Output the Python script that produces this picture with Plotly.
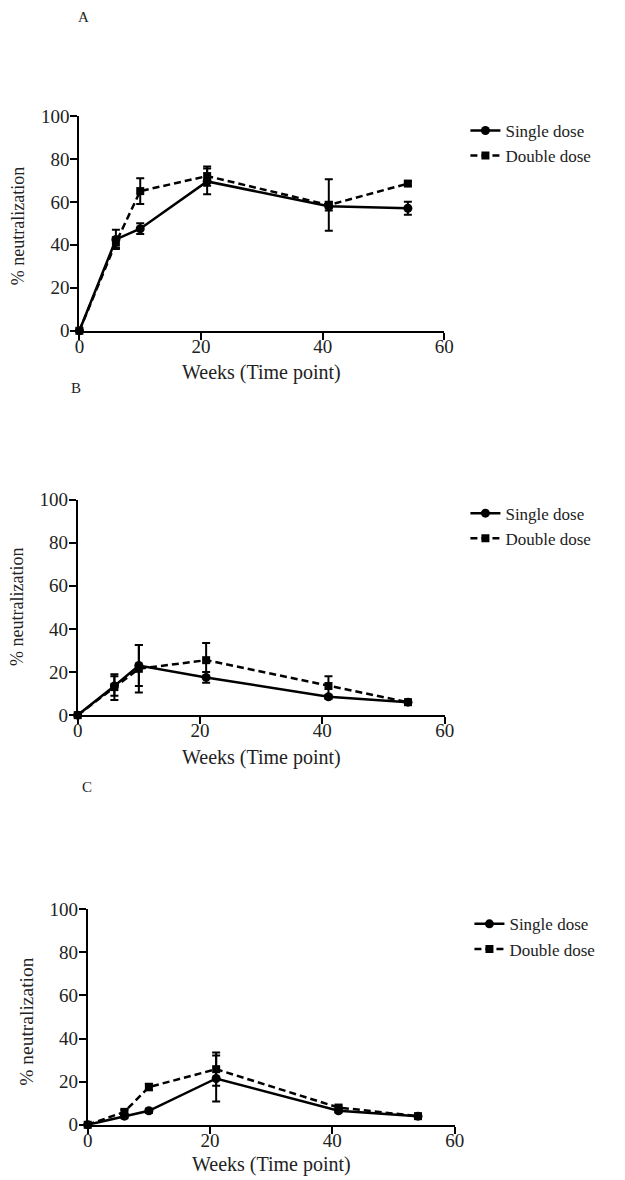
import plotly.graph_objects as go

weeks = [0, 6, 10, 21, 41, 54]

A_single = [0, 42.5, 47.5, 69.5, 58.0, 57.0]
A_single_err = [0, 4.5, 2.5, 6.0, 2.0, 3.0]
A_double = [0, 41.0, 65.0, 72.0, 58.5, 68.5]
A_double_err = [0, 2.5, 6.0, 4.5, 12.0, 1.0]

B_single = [0, 13.5, 23.0, 17.5, 8.5, 6.0]
B_single_err = [0, 4.5, 9.5, 2.5, 1.0, 0.5]
B_double = [0, 13.0, 21.5, 25.5, 13.5, 6.0]
B_double_err = [0, 6.0, 11.0, 8.0, 4.5, 0.5]

C_single = [0, 4.0, 6.5, 21.5, 6.5, 4.0]
C_single_err = [0, 1.0, 1.0, 10.7, 0.8, 0.5]
C_double = [0, 6.0, 17.5, 25.8, 8.0, 4.0]
C_double_err = [0, 1.0, 1.5, 7.7, 1.0, 0.5]

panel_labels = ["A", "B", "C"]
series_names = ["Single dose", "Double dose"]
x_ticks = [0, 20, 40, 60]
y_ticks = [0, 20, 40, 60, 80, 100]

W, H = 625, 1180
FONT = "Liberation Serif"

# the captured picture is slightly offset/scaled relative to the page: compensate
SX, OX = 0.975, 4.8
SY, OY = 0.983, 10.0


def fx(X):
    return ((X - OX) / SX) / W


def fy(Y):
    return 1 - ((Y - OY) / SY) / H


# panel geometry in target pixels: (left, right, top, bottom)
panels_px = [(79, 443, 116, 331), (77.3, 443.3, 500, 715.7), (87.3, 453.3, 910, 1125.7)]
legend_px = [(464, 113), (464, 496), (468, 907)]
label_px = [(83, 17), (76, 388), (87, 788)]
ytitle_px = [(17.5, 226.7), (16.7, 607.5), (26.7, 1021.7)]
ytitle_size = [18, 18, 19.5]
xtitle_y_px = [373, 758, 1165]

data = [
    (A_single, A_single_err, A_double, A_double_err),
    (B_single, B_single_err, B_double, B_double_err),
    (C_single, C_single_err, C_double, C_double_err),
]

fig = go.Figure()
annotations = []
layout = {}

for i, (s, se, d, de) in enumerate(data):
    n = "" if i == 0 else str(i + 1)
    xa, ya = "x" + n, "y" + n
    lg = "legend" + n
    fig.add_trace(go.Scatter(
        x=weeks, y=s, name=series_names[0], xaxis=xa, yaxis=ya, legend=lg,
        mode="lines+markers", cliponaxis=False,
        line=dict(color="black", width=2.5),
        marker=dict(symbol="circle", size=9, color="black"),
        error_y=dict(type="data", array=se, visible=True, color="black", thickness=2, width=4),
    ))
    fig.add_trace(go.Scatter(
        x=weeks, y=d, name=series_names[1], xaxis=xa, yaxis=ya, legend=lg,
        mode="lines+markers", cliponaxis=False,
        line=dict(color="black", width=2.5, dash="7px,4px"),
        marker=dict(symbol="square", size=8, color="black"),
        error_y=dict(type="data", array=de, visible=True, color="black", thickness=2, width=4),
    ))
    l, r, t, b = panels_px[i]
    axis_common = dict(showgrid=False, zeroline=False, showline=True, linecolor="black",
                       linewidth=2, ticks="outside", ticklen=7, tickwidth=2, tickcolor="black",
                       tickfont=dict(family=FONT, size=19, color="#222"))
    layout["xaxis" + n] = dict(domain=[fx(l), fx(r)], anchor=ya, range=[0, 60],
                               tickvals=x_ticks, ticklabelstandoff=-10, **axis_common)
    layout["yaxis" + n] = dict(domain=[fy(b), fy(t)], anchor=xa, range=[0, 100],
                               tickvals=y_ticks, ticklabelstandoff=-3, **axis_common)
    lx, ly = legend_px[i]
    layout[lg] = dict(x=fx(lx), y=fy(ly), xanchor="left", yanchor="top",
                      bgcolor="rgba(0,0,0,0)", font=dict(family=FONT, size=17, color="#222"),
                      itemwidth=30, tracegroupgap=0)
    px_, py_ = label_px[i]
    annotations.append(dict(text=panel_labels[i], x=fx(px_), y=fy(py_), xref="paper", yref="paper",
                            xanchor="center", yanchor="middle",
                            showarrow=False, font=dict(family=FONT, size=15, color="#222")))
    tx, ty = ytitle_px[i]
    annotations.append(dict(text="% neutralization", x=fx(tx), y=fy(ty), xref="paper", yref="paper",
                            xanchor="center", yanchor="middle",
                            showarrow=False, textangle=-90,
                            font=dict(family=FONT, size=ytitle_size[i], color="#222")))
    annotations.append(dict(text="Weeks (Time point)", x=fx((l + r) / 2), y=fy(xtitle_y_px[i]),
                            xref="paper", yref="paper", showarrow=False,
                            xanchor="center", yanchor="middle",
                            font=dict(family=FONT, size=20, color="#222")))

fig.update_layout(width=W, height=H, margin=dict(l=0, r=0, t=0, b=0),
                  paper_bgcolor="white", plot_bgcolor="white",
                  annotations=annotations, **layout)

fig.write_html("out.html")
